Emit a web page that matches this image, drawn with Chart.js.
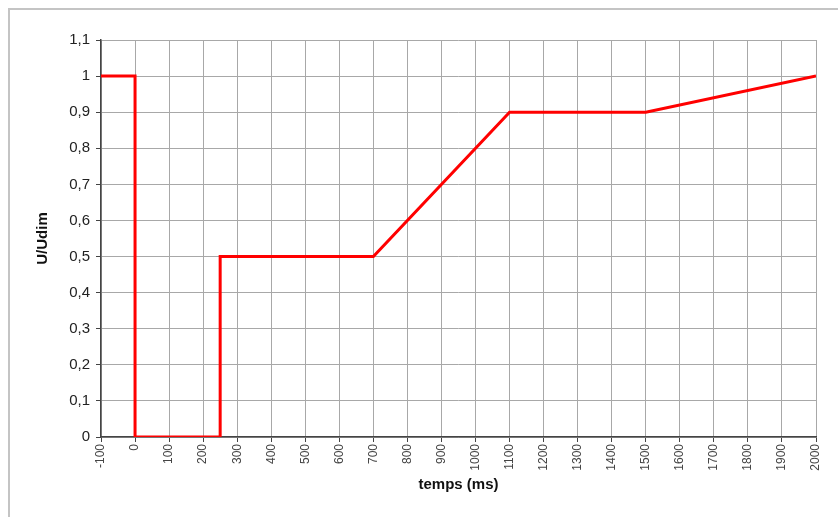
<!DOCTYPE html>
<html>
<head>
<meta charset="utf-8">
<script src="https://cdn.jsdelivr.net/npm/chart.js@4/dist/chart.umd.min.js"></script>
<style>
  html, body { margin: 0; padding: 0; background: #fff; }
  #wrap { position: relative; width: 838px; height: 517px; overflow: hidden; }
  #frame { position: absolute; left: 8px; top: 8px; width: 900px; height: 600px;
           border: 2px solid #c4c4c4; box-sizing: border-box; }
  canvas { position: absolute; left: 0; top: 0; }
</style>
</head>
<body>
<div id="wrap">
  <div id="frame"></div>
  <canvas id="chart" width="838" height="517"></canvas>
</div>
<script>
// time in ms, and the voltage ratio at that time
var times  = [-100, 0, 0, 250, 250, 700, 1100, 1500, 2000];
var ratios = [1, 1, 0, 0, 0.5, 0.5, 0.9, 0.9, 1];

var xTicks = [-100, 0, 100, 200, 300, 400, 500, 600, 700, 800, 900, 1000,
              1100, 1200, 1300, 1400, 1500, 1600, 1700, 1800, 1900, 2000];
var yTicks = [0, 0.1, 0.2, 0.3, 0.4, 0.5, 0.6, 0.7, 0.8, 0.9, 1, 1.1];

var points = times.map(function(t, i){ return {x: t, y: ratios[i]}; });

var gridColor = '#a8a8a8';
var fontFamily = 'Arial, "Liberation Sans", sans-serif';

new Chart(document.getElementById('chart'), {
  type: 'line',
  data: {
    datasets: [{
      data: points,
      borderColor: '#ff0000',
      borderWidth: 3,
      pointRadius: 0,
      fill: false,
      tension: 0
    }]
  },
  options: {
    responsive: false,
    animation: false,
    layout: { padding: { left: 0, top: 40, right: 22, bottom: 0 } },
    plugins: { legend: { display: false }, tooltip: { enabled: false } },
    scales: {
      x: {
        type: 'linear',
        min: -100, max: 2000,
        afterBuildTicks: function(scale){
          scale.ticks = xTicks.map(function(v){ return {value: v}; });
        },
        afterFit: function(scale){ scale.height = 80; },
        grid: { color: gridColor, lineWidth: 1, tickLength: 5, tickColor: '#444' },
        border: { color: '#444', width: 1.5 },
        ticks: {
          minRotation: 90, maxRotation: 90, autoSkip: false,
          color: '#444', padding: 2,
          font: { family: fontFamily, size: 12 },
          callback: function(v){ return String(v); }
        },
        title: {
          display: true, text: 'temps (ms)', color: '#111',
          font: { family: fontFamily, size: 15, weight: 'bold' },
          padding: { top: 0, bottom: 23 }
        }
      },
      y: {
        min: 0, max: 1.1,
        afterBuildTicks: function(scale){
          scale.ticks = yTicks.map(function(v){ return {value: v}; });
        },
        afterFit: function(scale){ scale.width = 101; },
        grid: { color: gridColor, lineWidth: 1, tickLength: 5, tickColor: '#444' },
        border: { color: '#444', width: 1.5 },
        ticks: {
          color: '#222', padding: 6,
          font: { family: fontFamily, size: 15 },
          callback: function(v){ return String(Math.round(v * 10) / 10).replace('.', ','); }
        },
        title: {
          display: true, text: 'U/Udim', color: '#111',
          font: { family: fontFamily, size: 15, weight: 'bold' },
          padding: { top: 34, bottom: 0 }
        }
      }
    }
  }
});
</script>
</body>
</html>
